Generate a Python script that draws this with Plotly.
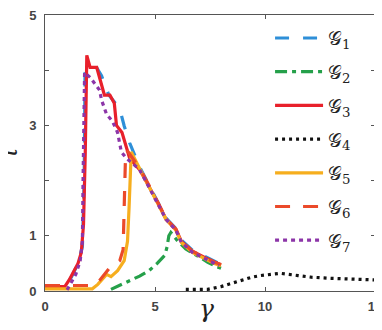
import plotly.graph_objects as go

# ---- data ----
g1_x = [0, 0.9, 1.2, 1.5, 1.7, 1.78, 1.82, 2.0, 2.3, 2.57, 2.9, 3.2, 3.45, 3.6, 3.85, 4.3, 4.75, 5.2, 5.5, 5.95, 6.2, 6.7, 7.3, 7.7, 8.0]
g1_y = [0.08, 0.08, 0.25, 0.5, 0.8, 2.0, 3.95, 4.05, 4.08, 3.9, 3.55, 3.4, 3.22, 2.99, 2.68, 2.25, 1.9, 1.56, 1.32, 1.13, 0.92, 0.74, 0.62, 0.53, 0.48]

g2_x = [3.0, 3.4, 3.83, 4.3, 4.73, 5.1, 5.45, 5.55, 5.63, 5.72, 6.0, 6.4, 7.0, 7.4, 7.8, 8.0]
g2_y = [0.03, 0.1, 0.18, 0.27, 0.37, 0.5, 0.65, 0.8, 1.0, 1.06, 0.92, 0.76, 0.62, 0.52, 0.44, 0.41]

g3_x = [0, 0.9, 1.1, 1.3, 1.5, 1.65, 1.75, 1.83, 1.87, 1.9, 2.05, 2.35, 2.7, 2.95, 3.15, 3.25, 3.5, 3.85, 4.3, 4.75, 5.2, 5.5, 5.95, 6.2, 6.7, 7.3, 7.7, 8.0]
g3_y = [0.08, 0.08, 0.2, 0.35, 0.5, 0.7, 1.2, 2.5, 3.8, 4.27, 4.05, 4.05, 3.55, 3.55, 3.4, 3.0, 2.87, 2.4, 2.2, 1.88, 1.55, 1.3, 1.12, 0.9, 0.72, 0.6, 0.52, 0.47]

g4_x = [6.4, 7.4, 8.0, 8.6, 9.1, 9.4, 9.8, 10.3, 10.7, 11.5, 12.1, 13.0, 13.6, 14.3, 15.0]
g4_y = [0.03, 0.03, 0.08, 0.15, 0.22, 0.25, 0.28, 0.3, 0.32, 0.28, 0.25, 0.23, 0.22, 0.21, 0.2]

g5_x = [0, 2.15, 2.4, 2.6, 2.8, 3.0, 3.3, 3.6, 3.75, 3.82, 3.88, 3.92, 4.3, 4.75, 5.2, 5.5, 5.95, 6.2, 6.7, 7.3, 7.7, 8.0]
g5_y = [0.04, 0.04, 0.12, 0.2, 0.3, 0.26, 0.37, 0.55, 0.9, 1.5, 2.3, 2.52, 2.22, 1.88, 1.54, 1.3, 1.1, 0.88, 0.7, 0.58, 0.5, 0.46]

g6_x = [0, 2.2, 2.5, 2.7, 2.9, 3.1, 3.4, 3.55, 3.6, 3.65, 3.72, 4.3, 4.75, 5.2, 5.5, 5.95, 6.2, 6.7, 7.3, 7.7, 8.0]
g6_y = [0.1, 0.1, 0.2, 0.3, 0.4, 0.45, 0.55, 0.75, 1.5, 2.3, 2.55, 2.23, 1.9, 1.56, 1.31, 1.12, 0.9, 0.72, 0.6, 0.52, 0.48]

g7_x = [1.0, 1.2, 1.4, 1.6, 1.7, 1.73, 1.76, 1.8, 2.05, 2.48, 2.57, 2.8, 3.06, 3.3, 3.47, 3.69, 4.3, 4.75, 5.2, 5.5, 5.95, 6.2, 6.7, 7.3, 7.7, 7.9]
g7_y = [0.02, 0.15, 0.3, 0.55, 0.9, 2.0, 3.5, 3.96, 3.87, 3.64, 3.46, 3.2, 3.08, 2.87, 2.52, 2.41, 2.2, 1.87, 1.52, 1.3, 1.1, 0.88, 0.7, 0.58, 0.5, 0.46]

names = ["𝒢<sub>1</sub>", "𝒢<sub>2</sub>", "𝒢<sub>3</sub>", "𝒢<sub>4</sub>",
         "𝒢<sub>5</sub>", "𝒢<sub>6</sub>", "𝒢<sub>7</sub>"]

x_ticks = [0, 5, 10, 15]
y_ticks = [0, 1, 2, 3, 4, 5]
y_tick_text = ["0", "1", "", "3", "", "5"]

series = [
    (g1_x, g1_y, "#2E8FD8", "14px,14px"),
    (g2_x, g2_y, "#25A04A", "12px,5px,4px,5px"),
    (g3_x, g3_y, "#E8202B", "solid"),
    (g4_x, g4_y, "#111111", "3px,4px"),
    (g5_x, g5_y, "#F6AE1E", "solid"),
    (g6_x, g6_y, "#EB4A2A", "15px,13px"),
    (g7_x, g7_y, "#8C35A8", "4px,4px"),
]

fig = go.Figure()
for i, ((xs, ys, col, dash), nm) in enumerate(zip(series, names)):
    fig.add_trace(go.Scatter(x=xs, y=ys, mode="lines", name=nm, legendgroup=f"g{i}",
                             line=dict(color=col, width=3.2, dash=dash)))

tick_font = dict(family="Liberation Sans", size=13, color="#444444", weight="bold")
axis_common = dict(showline=True, linecolor="#555555", linewidth=1, mirror="ticks",
                   ticks="inside", ticklen=4, tickcolor="#555555", showgrid=False,
                   zeroline=False, ticklabeloverflow="allow", tickfont=tick_font)

# the page body has an 8px margin, so the figure is sized/offset to compensate
fig.update_layout(
    width=374, height=322,
    margin=dict(l=37, r=4, t=0, b=39),
    paper_bgcolor="white", plot_bgcolor="white",
    showlegend=True,
    legend=dict(x=0.682, y=0.985, xanchor="left", yanchor="top",
                bgcolor="rgba(0,0,0,0)", font=dict(family="DejaVu Serif", size=19, color="#222222"),
                tracegroupgap=6, itemwidth=48),
    xaxis=dict(range=[0, 15], tickvals=x_ticks, ticklabelstandoff=3, **axis_common),
    yaxis=dict(range=[0, 5], tickvals=y_ticks, ticktext=y_tick_text, ticklabelstandoff=5,
               **axis_common),
)

fig.add_annotation(text="<i>γ</i>", xref="paper", yref="paper", x=0.49, y=-0.065,
                   xanchor="center", yanchor="middle", showarrow=False,
                   font=dict(family="DejaVu Serif", size=25, color="#222222"))
fig.add_annotation(text="<i>τ</i>", xref="paper", yref="paper", x=-0.112, y=0.5,
                   xanchor="center", yanchor="middle", showarrow=False, textangle=-90,
                   font=dict(family="DejaVu Serif", size=25, color="#222222"))

fig.write_html("out.html")
